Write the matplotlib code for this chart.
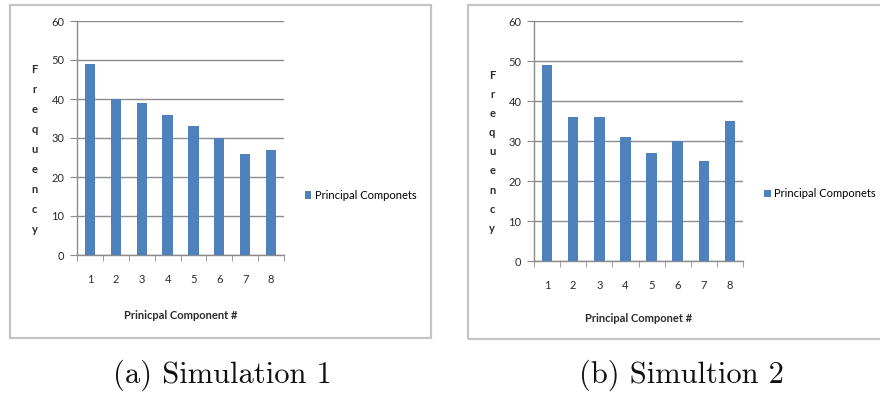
import matplotlib
matplotlib.use("Agg")
import matplotlib.pyplot as plt
import numpy as np
from matplotlib.patches import Rectangle

# data
components = [1, 2, 3, 4, 5, 6, 7, 8]
freq_sim1 = [49, 40, 39, 36, 33, 30, 26, 27]
freq_sim2 = [49, 36, 36, 31, 27, 30, 25, 35]
xlabels = ["Prinicpal Component #", "Principal Componet #"]
captions = ["(a) Simulation 1", "(b) Simultion 2"]
legend_label = "Principal Componets"

bar_color = "#4f81bd"
grid_color = "#8c8c8c"
txt_color = "#2b2b2b"
sans = ["Lato", "DejaVu Sans"]

W, H = 880, 394
fig = plt.figure(figsize=(W / 100, H / 100), dpi=100)

def px_axes(l, t, r, b):
    return [l / W, 1 - b / H, (r - l) / W, (b - t) / H]

# panel boxes (pixels: left, top, right, bottom); the right one runs off the edge
for l, t, r, b in [(10, 5, 431, 338), (468, 5, 884, 339)]:
    fig.patches.append(Rectangle((l / W, 1 - b / H), (r - l) / W, (b - t) / H,
                                 transform=fig.transFigure, fill=False,
                                 edgecolor="#c4c4c4", linewidth=1.6))

panels = [
    dict(rect=(77, 21, 284, 255), vals=freq_sim1, ylab=(-0.205, 0.45, 2.0),
         xlab_y=-0.235, leg=(1.1, 0.255), cap_x=222),
    dict(rect=(534, 21, 743, 261), vals=freq_sim2, ylab=(-0.2, 0.455, 1.9),
         xlab_y=-0.215, leg=(1.1, 0.28), cap_x=681),
]

for i, p in enumerate(panels):
    ax = fig.add_axes(px_axes(*p["rect"]))
    x = np.arange(len(components))
    ax.bar(x, p["vals"], width=0.4, color=bar_color, zorder=3,
           label=legend_label)
    ax.set_xlim(-0.5, len(components) - 0.5)
    ax.set_ylim(0, 60)
    ax.set_yticks(np.arange(0, 61, 10))
    ax.set_xticks(x)
    ax.set_xticklabels([str(c) for c in components])
    ax.set_xticks(np.arange(-0.5, len(components)), minor=True)
    ax.yaxis.grid(True, color=grid_color, linewidth=1.0, zorder=0)
    for s in ["top", "right"]:
        ax.spines[s].set_visible(False)
    for s in ["left", "bottom"]:
        ax.spines[s].set_color(grid_color)
        ax.spines[s].set_linewidth(1.0)
    ax.tick_params(axis="y", length=5, color=grid_color, pad=4,
                   labelsize=8, labelcolor=txt_color)
    ax.tick_params(axis="x", which="major", length=0, pad=14,
                   labelsize=8, labelcolor=txt_color)
    ax.tick_params(axis="x", which="minor", length=4, color=grid_color)
    for lab in ax.get_xticklabels() + ax.get_yticklabels():
        lab.set_family(sans)

    lx, ly, ls = p["ylab"]
    ax.text(lx, ly, "\n".join("Frequency"), transform=ax.transAxes,
            ha="center", va="center", linespacing=ls, fontsize=8,
            fontweight="bold", color=txt_color, family=sans)
    ax.set_xlabel(xlabels[i], fontsize=8, fontweight="bold",
                  color=txt_color, family=sans)
    ax.xaxis.set_label_coords(0.5, p["xlab_y"])

    ax.legend(loc="center left", bbox_to_anchor=p["leg"], frameon=False,
              handlelength=0.6, handleheight=0.7, handletextpad=0.3,
              borderpad=0, borderaxespad=0,
              prop={"family": sans, "size": 8})

    fig.text(p["cap_x"] / W, 1 - 375 / H, captions[i], ha="center",
             va="center", fontsize=22, family=["cmr10", "DejaVu Serif"],
             color="#111111")

fig.savefig("out.png", dpi=100)
